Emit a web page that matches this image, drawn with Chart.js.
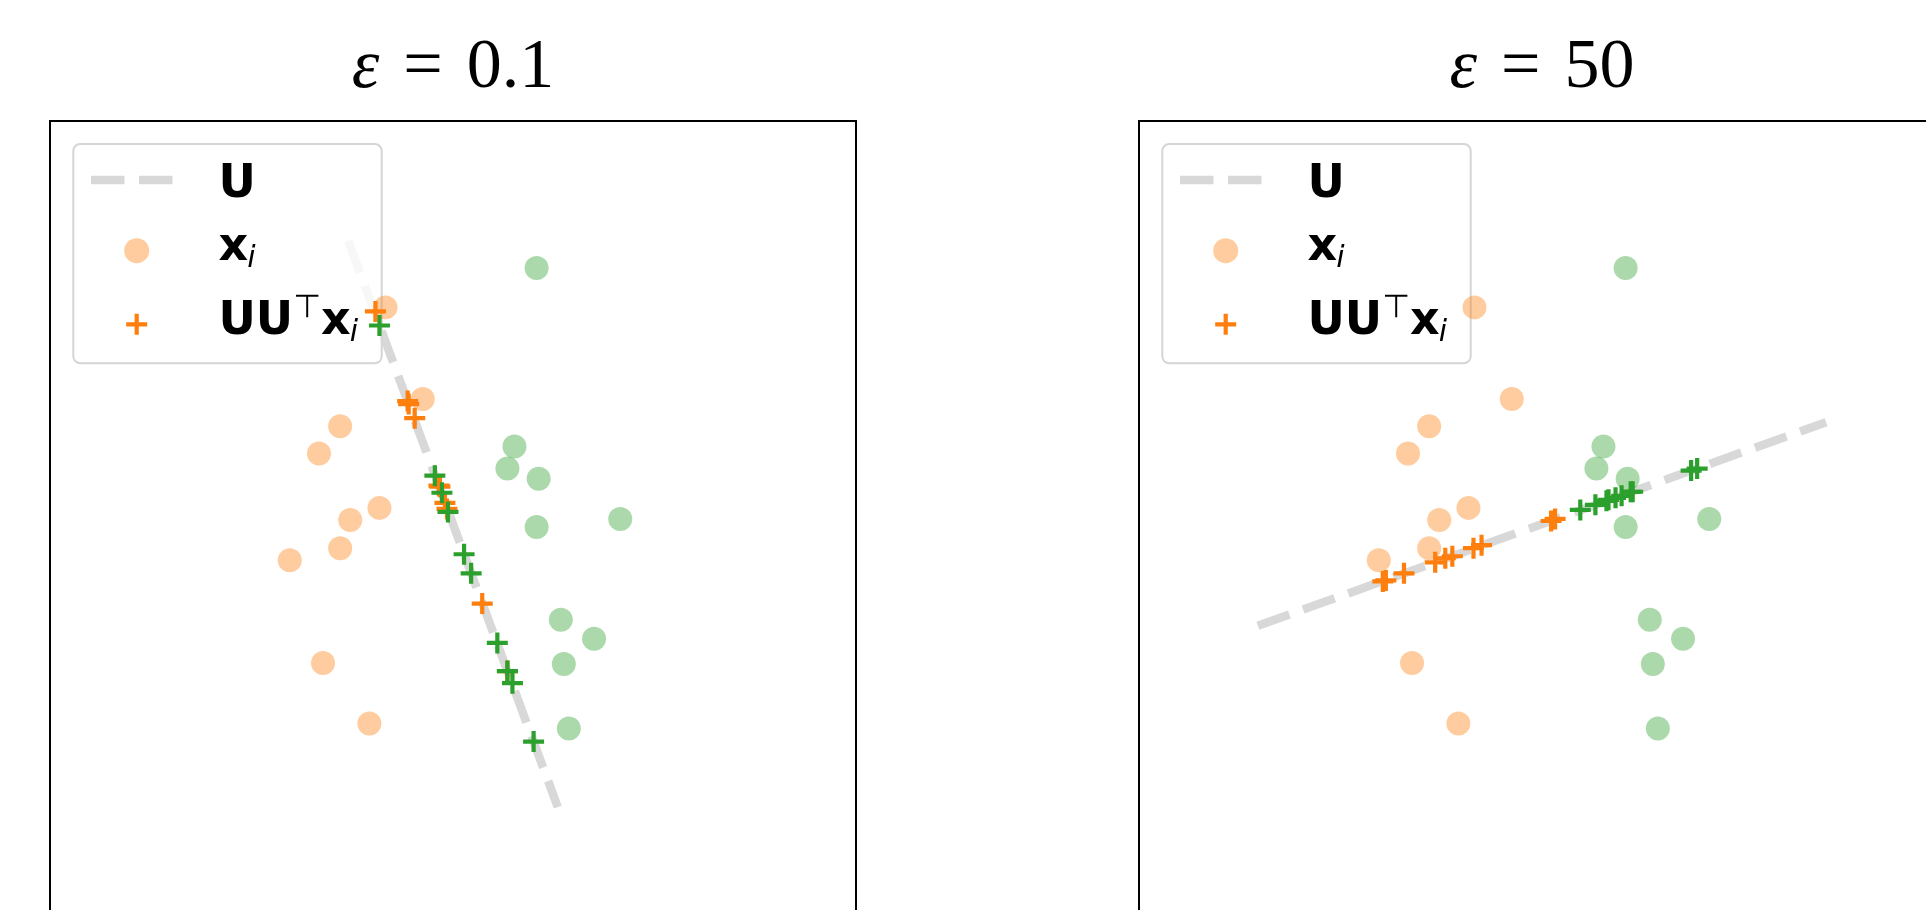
<!DOCTYPE html>
<html>
<head>
<meta charset="utf-8">
<title>Projection onto U</title>
<script src="https://cdn.jsdelivr.net/npm/chart.js@4.4.1/dist/chart.umd.min.js"></script>
<style>
  html, body { margin: 0; padding: 0; background: #fff; overflow: hidden; width: 1926px; height: 910px; }
  .panel { position: absolute; top: 0; height: 1000px; }
  #panelLow { left: 0; width: 963px; }
  #panelHigh { left: 963px; width: 1000px; }
</style>
</head>
<body>
<div class="panel" id="panelLow"><canvas id="chartLow"></canvas></div>
<div class="panel" id="panelHigh"><canvas id="chartHigh"></canvas></div>
<script>
// samples x_i, same in both panels
const orangeX = [-0.67, -0.30, -1.12, -1.33, -0.73, -1.02, -1.12, -1.62, -1.29, -0.83];
const orangeY = [2.15, 1.24, 0.97, 0.70, 0.16, 0.04, -0.24, -0.36, -1.38, -1.98];
const greenX = [0.83, 0.61, 0.54, 0.85, 0.83, 1.66, 1.07, 1.40, 1.10, 1.15];
const greenY = [2.54, 0.77, 0.55, 0.45, -0.03, 0.05, -0.95, -1.14, -1.39, -2.03];

// eps = 0.1 : subspace U and projections UU^T x_i
const uLowX = [-1.04, 1.04];
const uLowY = [2.81, -2.81];
const projLowOrangeX = [-0.77, -0.44, -0.45, -0.38, -0.14, -0.13, -0.06, -0.08, 0.29, 0.54];
const projLowOrangeY = [2.11, 1.19, 1.22, 1.05, 0.38, 0.37, 0.15, 0.21, -0.79, -1.46];
const projLowGreenX = [-0.73, -0.18, -0.11, -0.05, 0.11, 0.18, 0.44, 0.54, 0.59, 0.80];
const projLowGreenY = [1.97, 0.48, 0.31, 0.12, -0.30, -0.49, -1.18, -1.46, -1.58, -2.16];

// eps = 50
const uHighX = [-2.82, 2.82];
const uHighY = [-1.01, 1.01];
const projHighOrangeX = [0.09, 0.13, -0.68, -0.96, -0.60, -0.89, -1.06, -1.55, -1.58, -1.37];
const projHighOrangeY = [0.03, 0.05, -0.24, -0.34, -0.21, -0.32, -0.38, -0.56, -0.57, -0.49];
const projHighGreenX = [1.54, 0.79, 0.66, 0.90, 0.73, 1.48, 0.64, 0.88, 0.53, 0.38];
const projHighGreenY = [0.55, 0.28, 0.24, 0.32, 0.26, 0.53, 0.23, 0.32, 0.19, 0.14];

const AXIS_LIMIT = 4;

const COLORS = {
  orange: '#ff7f0e',
  green: '#2ca02c',
  orangeFaded: 'rgba(255, 127, 14, 0.4)',
  greenFaded: 'rgba(44, 160, 44, 0.4)',
  subspace: '#d8d8d8',
  legendEdge: '#d5d5d5',
};

const LINE_WIDTH = 8.5;
const LINE_DASH = [33.5, 14.5];
const DOT_RADIUS = 12;
const CROSS_RADIUS = 10.5;
const CROSS_WIDTH = 4.2;

function zip(xs, ys) {
  return xs.map((x, i) => ({ x, y: ys[i] }));
}

function buildDatasets(uX, uY, projOX, projOY, projGX, projGY) {
  // lower order is drawn on top
  return [
    {
      type: 'line',
      data: zip(uX, uY),
      borderColor: COLORS.subspace,
      borderWidth: LINE_WIDTH,
      borderDash: LINE_DASH,
      borderCapStyle: 'butt',
      pointRadius: 0,
      fill: false,
      order: 5,
    },
    { data: zip(orangeX, orangeY), backgroundColor: COLORS.orangeFaded, borderWidth: 0, pointRadius: DOT_RADIUS, order: 4 },
    { data: zip(greenX, greenY), backgroundColor: COLORS.greenFaded, borderWidth: 0, pointRadius: DOT_RADIUS, order: 3 },
    { data: zip(projOX, projOY), pointStyle: 'cross', pointRadius: CROSS_RADIUS, borderColor: COLORS.orange, borderWidth: CROSS_WIDTH, order: 2 },
    { data: zip(projGX, projGY), pointStyle: 'cross', pointRadius: CROSS_RADIUS, borderColor: COLORS.green, borderWidth: CROSS_WIDTH, order: 1 },
  ];
}

// Frame around the axes plus the "ε = value" heading.
const frameAndTitle = {
  id: 'frameAndTitle',
  afterDraw(chart, args, opts) {
    const { ctx, chartArea: a } = chart;
    ctx.save();
    ctx.strokeStyle = '#000';
    ctx.lineWidth = 2;
    ctx.strokeRect(a.left, a.top, a.right - a.left, a.bottom - a.top);

    const size = 70;
    const gap = 24;
    const baseline = 86.5;
    const upright = `${size}px "Liberation Serif", serif`;
    const slanted = `italic ${size}px "Liberation Serif", serif`;
    ctx.fillStyle = '#000';
    ctx.textBaseline = 'alphabetic';
    ctx.textAlign = 'left';
    ctx.font = slanted;
    const wEps = ctx.measureText('ε').width;
    ctx.font = upright;
    const wEq = ctx.measureText('=').width;
    const wVal = ctx.measureText(opts.value).width;
    let x = (a.left + a.right) / 2 - (wEps + gap + wEq + gap + wVal) / 2;
    ctx.font = slanted;
    ctx.fillText('ε', x, baseline);
    x += wEps + gap;
    ctx.font = upright;
    ctx.fillText('=', x, baseline);
    x += wEq + gap;
    ctx.fillText(opts.value, x, baseline);
    ctx.restore();
  },
};

// Legend sits above the dashed line but under the markers.
const mathLegend = {
  id: 'mathLegend',
  afterDatasetDraw(chart, args) {
    if (args.index !== 0) return;
    const { ctx, chartArea: a } = chart;
    const ox = a.left;
    const oy = a.top;
    ctx.save();

    ctx.beginPath();
    ctx.roundRect(ox + 23.3, oy + 23, 308.4, 219.3, 7);
    ctx.fillStyle = 'rgba(255, 255, 255, 0.8)';
    ctx.fill();
    ctx.lineWidth = 2;
    ctx.strokeStyle = COLORS.legendEdge;
    ctx.stroke();

    // handles
    ctx.beginPath();
    ctx.setLineDash(LINE_DASH);
    ctx.lineCap = 'butt';
    ctx.lineWidth = LINE_WIDTH;
    ctx.strokeStyle = COLORS.subspace;
    ctx.moveTo(ox + 41, oy + 59);
    ctx.lineTo(ox + 122.7, oy + 59);
    ctx.stroke();
    ctx.setLineDash([]);

    ctx.beginPath();
    ctx.arc(ox + 86.7, oy + 129.7, 12.5, 0, Math.PI * 2);
    ctx.fillStyle = COLORS.orangeFaded;
    ctx.fill();

    ctx.beginPath();
    ctx.lineWidth = CROSS_WIDTH;
    ctx.strokeStyle = COLORS.orange;
    ctx.moveTo(ox + 86.7 - CROSS_RADIUS, oy + 203.3);
    ctx.lineTo(ox + 86.7 + CROSS_RADIUS, oy + 203.3);
    ctx.moveTo(ox + 86.7, oy + 203.3 - CROSS_RADIUS);
    ctx.lineTo(ox + 86.7, oy + 203.3 + CROSS_RADIUS);
    ctx.stroke();

    // labels: U, x_i, UU^T x_i
    const bold = 'bold 46px "DejaVu Sans", sans-serif';
    const sub = 'italic 30px "DejaVu Sans", sans-serif';
    const sup = '32px "DejaVu Sans", sans-serif';
    const tx = ox + 168.5;
    ctx.fillStyle = '#000';
    ctx.textAlign = 'left';
    ctx.textBaseline = 'alphabetic';

    ctx.font = bold;
    ctx.fillText('U', tx, oy + 75.7);

    let x = tx;
    let base = oy + 139;
    ctx.font = bold;
    ctx.fillText('x', x, base);
    x += ctx.measureText('x').width - 1;
    ctx.font = sub;
    ctx.fillText('i', x, base + 6.5);

    x = tx;
    base = oy + 213;
    ctx.font = bold;
    ctx.fillText('UU', x, base);
    x += ctx.measureText('UU').width;
    ctx.font = sup;
    ctx.fillText('⊤', x, base - 17.3);
    x += ctx.measureText('⊤').width;
    ctx.font = bold;
    ctx.fillText('x', x, base);
    x += ctx.measureText('x').width - 1;
    ctx.font = sub;
    ctx.fillText('i', x, base + 6.5);

    ctx.restore();
  },
};

function makePanel(canvasId, padding, value, datasets) {
  return new Chart(document.getElementById(canvasId), {
    type: 'scatter',
    data: { datasets },
    options: {
      responsive: true,
      maintainAspectRatio: false,
      animation: false,
      events: [],
      layout: { padding },
      scales: {
        x: { type: 'linear', min: -AXIS_LIMIT, max: AXIS_LIMIT, display: false },
        y: { type: 'linear', min: -AXIS_LIMIT, max: AXIS_LIMIT, display: false },
      },
      plugins: {
        legend: { display: false },
        tooltip: { enabled: false },
        frameAndTitle: { value },
      },
    },
    plugins: [frameAndTitle, mathLegend],
  });
}

makePanel('chartLow', { left: 50, top: 121, right: 107, bottom: 73 }, '0.1',
  buildDatasets(uLowX, uLowY, projLowOrangeX, projLowOrangeY, projLowGreenX, projLowGreenY));

makePanel('chartHigh', { left: 176, top: 121, right: 18, bottom: 73 }, '50',
  buildDatasets(uHighX, uHighY, projHighOrangeX, projHighOrangeY, projHighGreenX, projHighGreenY));
</script>
</body>
</html>
